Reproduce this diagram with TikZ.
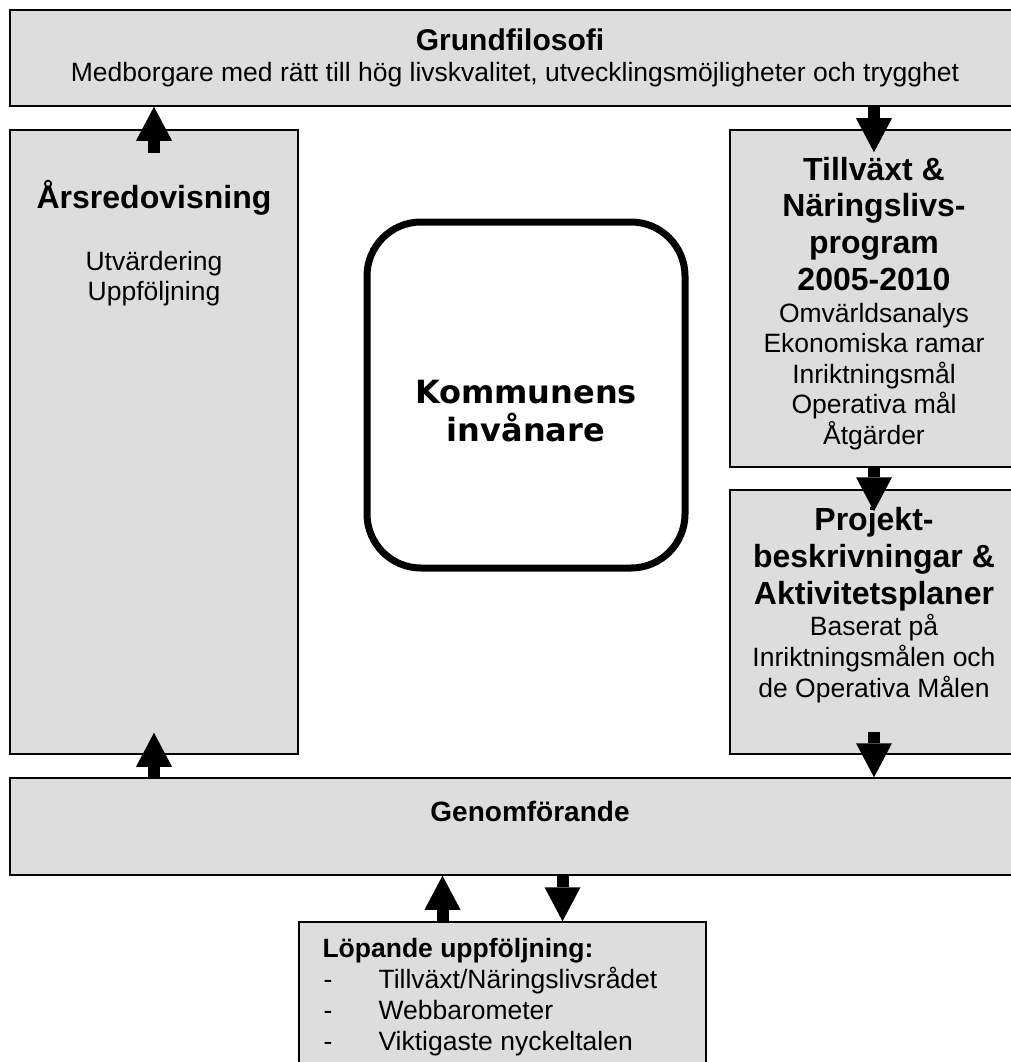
\documentclass[tikz,border=0pt]{standalone}
\usepackage{fontspec}
\setmainfont{Liberation Sans}
\newfontfamily\verdfont{DejaVu Sans}
\usetikzlibrary{arrows.meta}
\definecolor{boxgray}{RGB}{221,221,221}
\tikzset{
  box/.style={draw, fill=boxgray, line width=1.5pt, rectangle, inner sep=0pt},
  blockarrow/.style={line width=12pt, -{Triangle[length=34pt, width=36pt, line width=0pt]}},
  head/.style={font=\fontsize{32}{37}\selectfont\bfseries, anchor=base},
  txt/.style={font=\fontsize{26.5}{30.5}\selectfont, anchor=base},
}
\begin{document}
\begin{tikzpicture}[x=1pt,y=-1pt]
\useasboundingbox (0,0) rectangle (1010,1062);
% boxes
\node[box, minimum width=1008pt, minimum height=96pt] (grund) at (514,58) {};
\node[box, minimum width=288pt, minimum height=624pt] (arsred) at (154,442) {};
\node[box, minimum width=288pt, minimum height=337pt] (tillvaxt) at (874,298.5) {};
\node[box, minimum width=288pt, minimum height=264pt] (projekt) at (874,622) {};
\node[box, minimum width=1008pt, minimum height=97pt] (genom) at (514,826.5) {};
\node[box, minimum width=407pt, minimum height=148pt] (lopande) at (502.5,996) {};
\node[draw, line width=7pt, rounded corners=54pt, minimum width=318pt, minimum height=346pt] (invanare) at (526,395) {};

% texts
\node[head, font=\fontsize{30}{34}\selectfont\bfseries] at (510,51) {Grundfilosofi};
\node[txt] at (515,82) {Medborgare med rätt till hög livskvalitet, utvecklingsmöjligheter och trygghet};
\node[head, font=\fontsize{32}{37}\selectfont\bfseries] at (154,208) {Årsredovisning};
\node[txt] at (154,270) {Utvärdering};
\node[txt] at (154,300) {Uppföljning};
\foreach \t [count=\i from 0] in {Tillväxt \&, Näringslivs-, program, 2005-2010}
  \node[head] at (874,180+36.7*\i) {\t};
\foreach \t [count=\i from 0] in {Omvärldsanalys, Ekonomiska ramar, Inriktningsmål, Operativa mål, Åtgärder}
  \node[txt] at (874,322+30.5*\i) {\t};
\foreach \t [count=\i from 0] in {Projekt-, beskrivningar \&, Aktivitetsplaner}
  \node[head] at (874,530+37*\i) {\t};
\foreach \t [count=\i from 0] in {Baserat på, Inriktningsmålen och, de Operativa Målen}
  \node[txt] at (874,635+31*\i) {\t};
\node[head, font=\fontsize{28}{32}\selectfont\bfseries] at (530,821) {Genomförande};
\node[txt, anchor=base west, font=\fontsize{26.5}{30.5}\selectfont\bfseries] at (319,957) {Löpande uppföljning:};
\foreach \t [count=\i from 0] in {Tillväxt/Näringslivsrådet, Webbarometer, Viktigaste nyckeltalen}{
  \node[txt] at (328,988+31*\i) {-};
  \node[txt, anchor=base west] at (375,988+31*\i) {\t};
}
\node[font=\verdfont\bfseries\fontsize{32}{38}\selectfont, anchor=base] at (526,403) {Kommunens};
\node[font=\verdfont\bfseries\fontsize{32}{38}\selectfont, anchor=base] at (526,441) {invånare};

% arrows
\draw[blockarrow] ([yshift=-24pt]arsred.north) -- (arsred.north |- grund.south);
\draw[blockarrow] (arsred.south |- genom.north) -- ([yshift=22pt]arsred.south);
\draw[blockarrow] (tillvaxt.north |- grund.south) -- ([yshift=-23pt]tillvaxt.north);
\draw[blockarrow] (tillvaxt.south) -- ([yshift=-22pt]projekt.north);
\draw[blockarrow] ([yshift=23pt]projekt.south) -- (projekt.south |- genom.north);
\coordinate (up1) at ([xshift=-60pt]lopande.north);
\coordinate (down1) at ([xshift=60pt]lopande.north);
\draw[blockarrow] (up1) -- (up1 |- genom.south);
\draw[blockarrow] (down1 |- genom.south) -- (down1);
\end{tikzpicture}
\end{document}
